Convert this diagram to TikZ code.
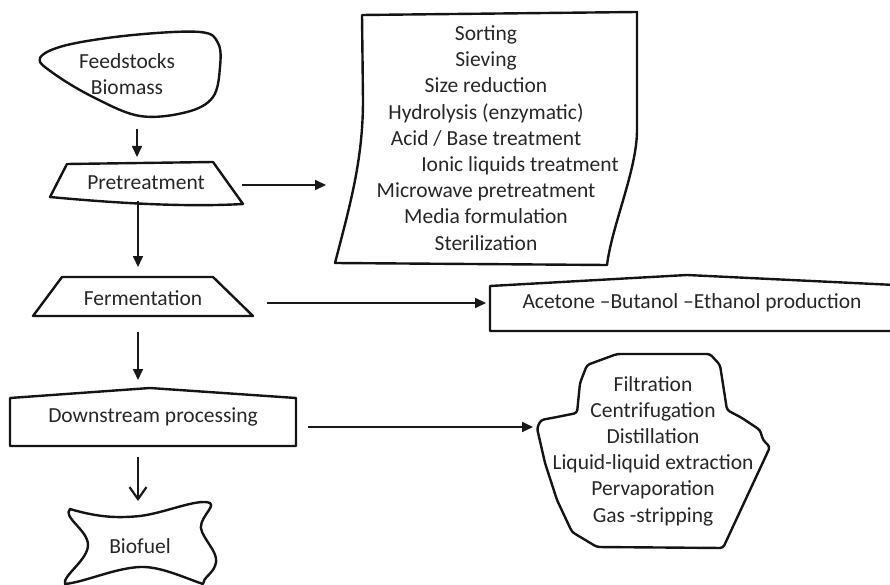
\documentclass[tikz,border=0pt]{standalone}
\usepackage{fontspec}
\setmainfont{Carlito}
\usetikzlibrary{arrows.meta}
\begin{document}
\begin{tikzpicture}[x=1pt,y=-1pt,
  outline/.style={line width=2.4pt,draw=black!92,line join=round},
  lbl/.style={align=center,inner sep=0pt,text=black!85,
              font=\fontsize{21.5}{26.2}\selectfont},
  flow/.style={line width=1.7pt,draw=black!90,-{Triangle[length=11pt,width=10pt]}},
  openflow/.style={line width=2.2pt,draw=black!90,-{Straight Barb[length=12pt,width=17pt,line width=2.2pt]}}]
\useasboundingbox (0,0) rectangle (890,585);
\clip (0,0) rectangle (890,585);

% ---------- main column ----------
% Feedstocks blob
\draw[outline] plot[smooth cycle,tension=0.6] coordinates
  {(40,58) (67,45) (133,35) (200,32) (218,43) (220,67) (213,97)
   (187,112) (140,116) (93,97) (53,73)};
\node[lbl] (feed) at (127,74) {Feedstocks\\Biomass};
\coordinate (feed-s) at (137,129);

% Pretreatment
\draw[outline] (67,164) -- (213,162) -- (243,204)
  .. controls (190,207) and (125,204) .. (50,197) -- cycle;
\node[lbl] (pre) at (146,183) {Pretreatment};
\coordinate (pre-n) at (137,157);
\coordinate (pre-s) at (138,201);
\coordinate (pre-e) at (242,185);

% Fermentation
\draw[outline] (62,277) -- (213,277) -- (253,316) -- (33,316) -- cycle;
\node[lbl] (fer) at (143,298) {Fermentation};
\coordinate (fer-n) at (138,267);
\coordinate (fer-s) at (138,332);
\coordinate (fer-e) at (267,303);

% Downstream processing
\draw[outline] (10,398) -- (150,388) -- (296,398) -- (296,446) -- (10,446) -- cycle;
\node[lbl] (down) at (153,417) {Downstream processing};
\coordinate (down-n) at (138,380);
\coordinate (down-s) at (138,457);
\coordinate (down-e) at (308,427);

% Biofuel
\draw[outline] (70,509) .. controls (100,518) and (120,518) .. (140,516)
  .. controls (165,513) and (198,498) .. (210,503)
  .. controls (216,507) and (196,520) .. (202,532)
  .. controls (208,545) and (220,555) .. (215,566)
  .. controls (212,574) and (203,578) .. (203,584)
  .. controls (185,578) and (160,566) .. (140,567)
  .. controls (115,568) and (85,582) .. (65,584)
  .. controls (62,576) and (88,560) .. (88,545)
  .. controls (88,530) and (62,517) .. (70,509) -- cycle;
\node[lbl] (bio) at (140,546) {Biofuel};
\coordinate (bio-n) at (138,501);

% ---------- side boxes ----------
% Pretreatment methods
\draw[outline] (362,15) -- (637,12) -- (637,130)
  .. controls (637,170) and (612,225) .. (607,265) -- (335,263)
  .. controls (350,205) and (363,160) .. (363,100) -- cycle;
\node[lbl] (methods) at (486,138)
  {Sorting\\Sieving\\Size reduction\\Hydrolysis (enzymatic)\\Acid / Base treatment\\
   \hspace*{68pt}Ionic liquids treatment\\Microwave pretreatment\\Media formulation\\Sterilization};
\coordinate (methods-w) at (326,185);

% ABE production
\draw[outline] (490,286) -- (687,275) -- (895,285) -- (895,331) -- (490,331) -- cycle;
\node[lbl] (abe) at (692,303) {Acetone –Butanol –Ethanol production};
\coordinate (abe-w) at (486,303);

% Recovery operations
\draw[outline,rounded corners=3pt] (587,365) -- (617,354) -- (710,354) -- (720,365)
  -- (727,410) -- (742,418) -- (760,430) -- (763,440) -- (770,447)
  -- (723,548) -- (597,547) -- (572,532) -- (557,500) -- (545,463)
  -- (537,428) -- (541,420) -- (557,417) -- (577,413) -- (580,383) -- cycle;
\node[lbl] (recov) at (653,451)
  {Filtration\\Centrifugation\\Distillation\\Liquid-liquid extraction\\Pervaporation\\Gas -stripping};
\coordinate (recov-w) at (533,427);

% ---------- connectors ----------
\draw[flow] (feed-s) -- (pre-n);
\draw[flow] (pre-s) -- (fer-n);
\draw[flow] (fer-s) -- (down-n);
\draw[openflow] (down-s) -- (bio-n);
\draw[flow] (pre-e) -- (methods-w);
\draw[flow] (fer-e) -- (abe-w);
\draw[flow] (down-e) -- (recov-w);
\end{tikzpicture}
\end{document}
